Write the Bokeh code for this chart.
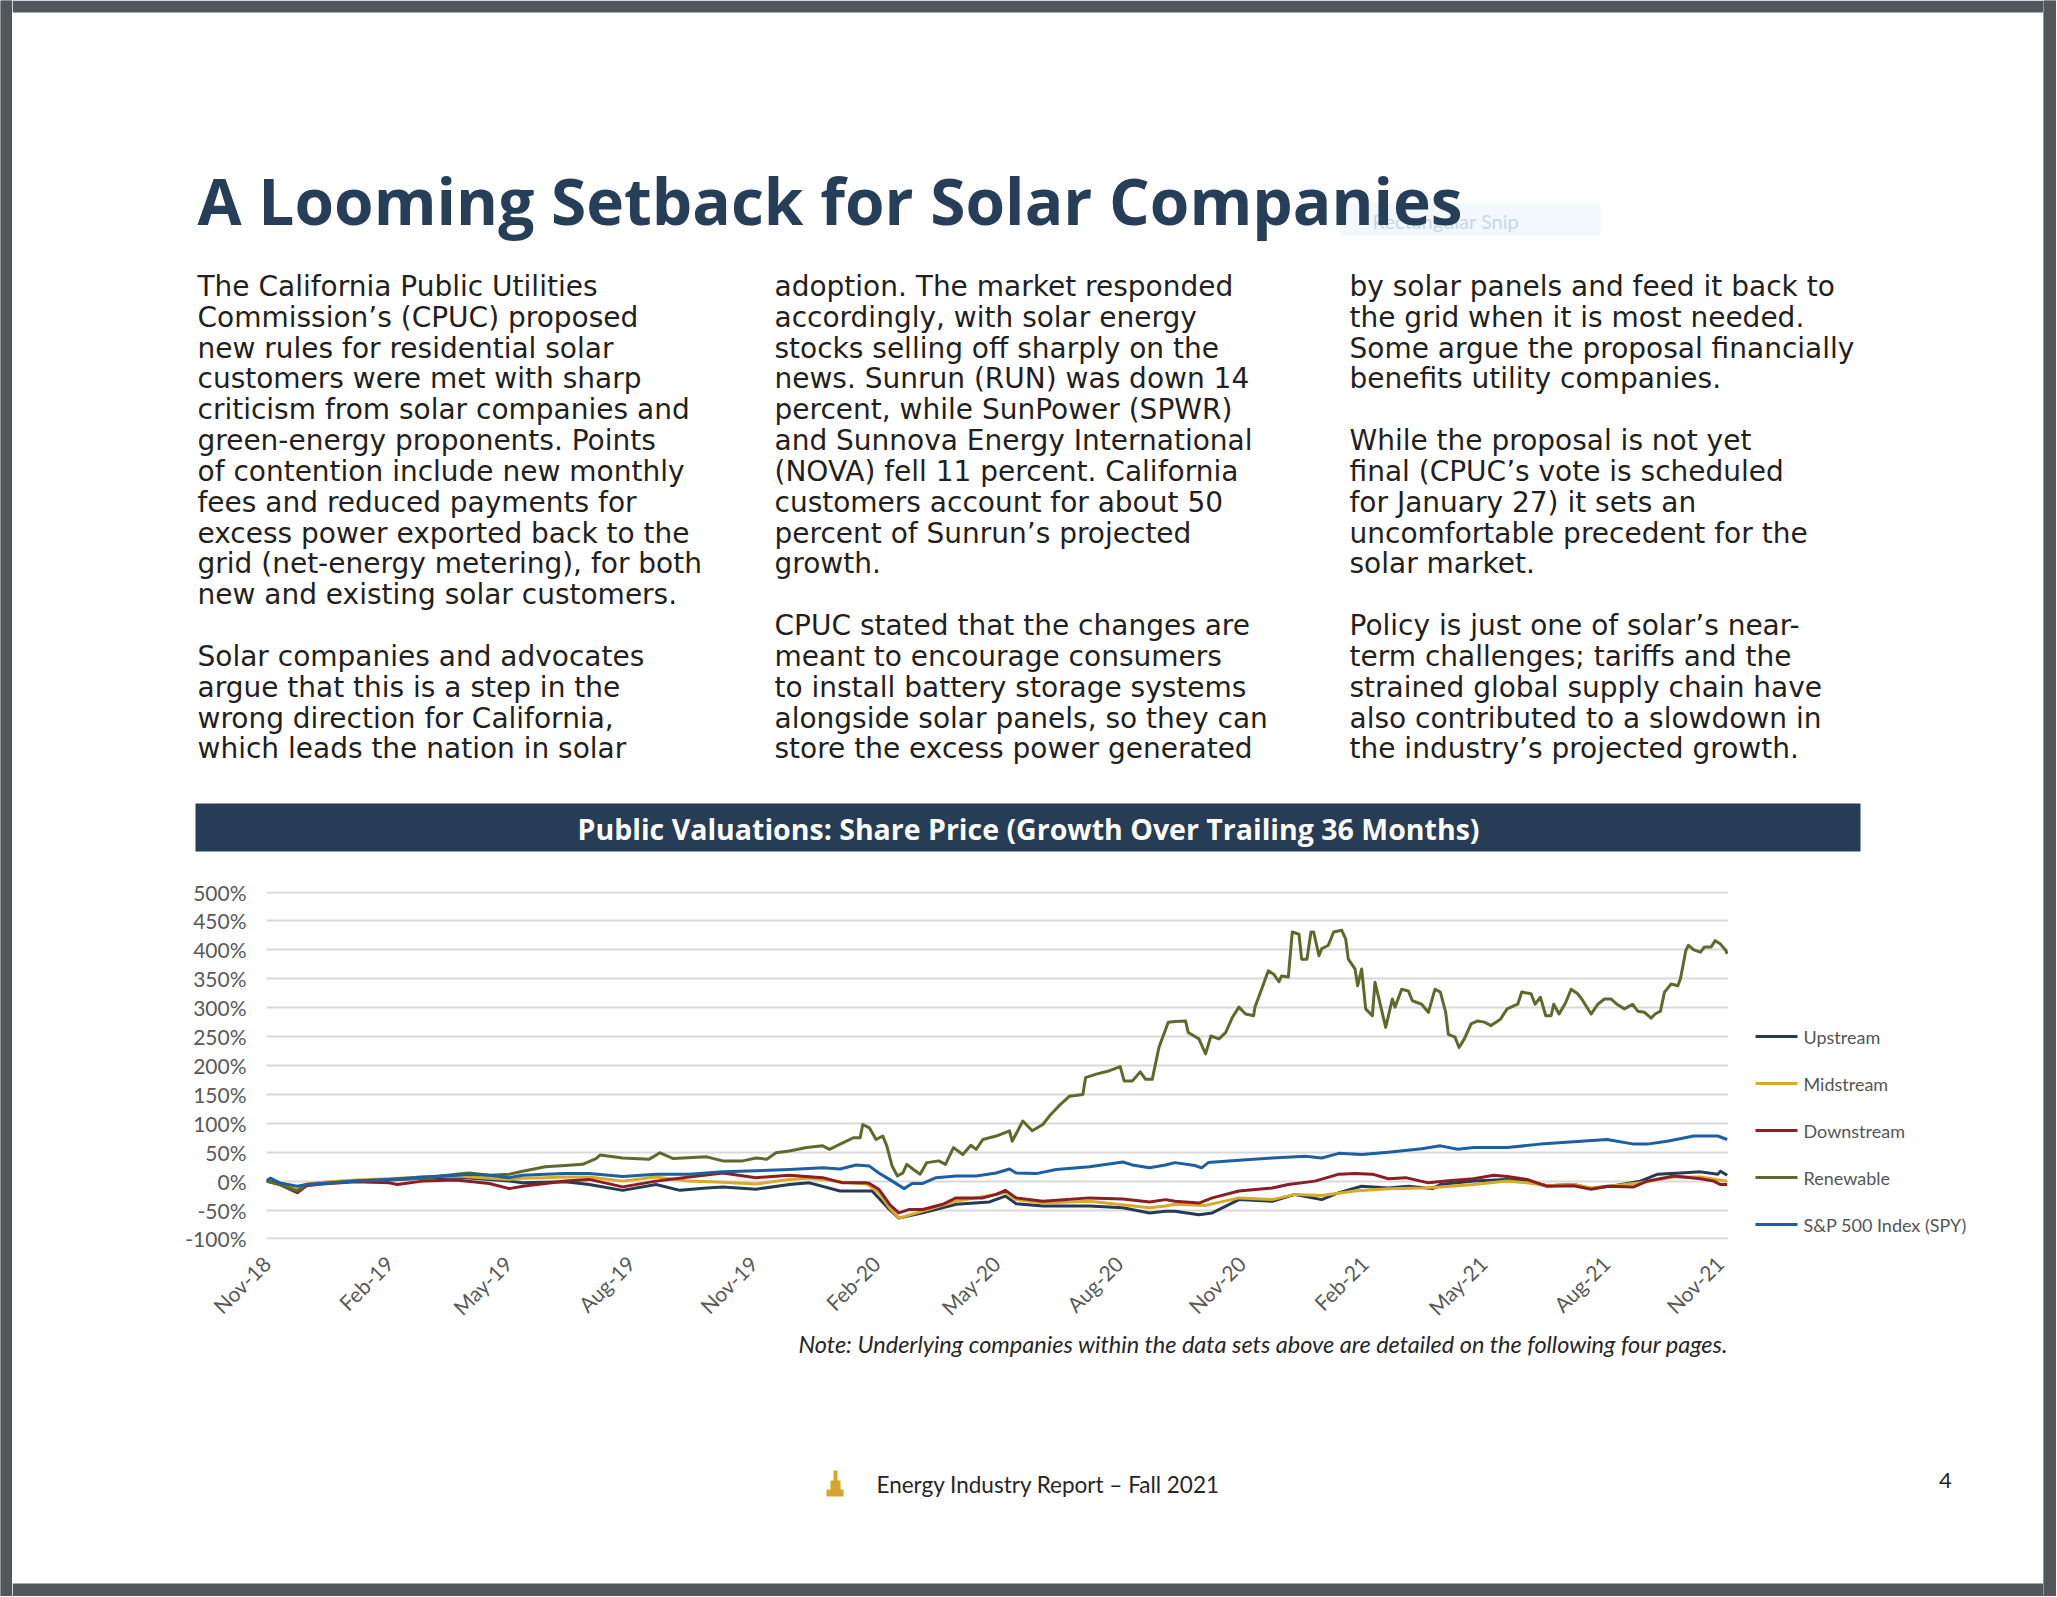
import math
import pandas as pd
from bokeh.plotting import figure
from bokeh.layouts import column, row
from bokeh.models import Range1d, FixedTicker, PrintfTickFormatter, DatetimeTickFormatter, Title
from bokeh.core.properties import value
from bokeh.embed import file_html
from bokeh.resources import INLINE

# ---------------- data ----------------
START = "2018-11-15"
END = "2021-11-15"
tick_labels = ["Nov-18", "Feb-19", "May-19", "Aug-19", "Nov-19", "Feb-20", "May-20",
               "Aug-20", "Nov-20", "Feb-21", "May-21", "Aug-21", "Nov-21"]
y_ticks = [-100, -50, 0, 50, 100, 150, 200, 250, 300, 350, 400, 450, 500]

series_names = ["Upstream", "Midstream", "Downstream", "Renewable", "S&P 500 Index (SPY)"]
series_colors = ["#243b53", "#d9a928", "#8b1e24", "#5b6b2b", "#1c5fa3"]

# day offsets from START and growth in percent
up_days = [0, 3, 10, 23, 30, 42, 67, 92, 117, 142, 167, 182, 192, 209, 224, 242, 267, 292, 310,
           330, 342, 367, 392, 407, 430, 450, 454, 467, 474, 492, 517, 542, 554, 562, 582, 617,
           642, 662, 674, 681, 699, 709, 729, 754, 771, 791, 804, 821, 841, 856, 874, 880, 905,
           930, 945, 960, 980, 993, 1010, 1030, 1043, 1060, 1075, 1088, 1090, 1095]
up_pct = [0, 5, -5, -17, -7, -3, 0, 2, 5, 7, 3, 0, -3, -2, -1, -6, -16, -6, -16,
          -12, -10, -14, -6, -3, -17, -17, -17, -49, -64, -55, -40, -36, -26, -39, -43, -43,
          -46, -55, -52, -52, -58, -55, -32, -35, -23, -32, -20, -9, -12, -9, -13, -6, 0,
          3, 0, -8, -6, -13, -8, 0, 12, 14, 16, 12, 17, 10]

mid_days = [0, 10, 23, 30, 42, 67, 92, 117, 142, 167, 182, 192, 209, 224, 242, 267, 292, 317,
            342, 367, 392, 405, 417, 432, 450, 452, 459, 467, 474, 492, 517, 554, 562, 582, 617,
            662, 674, 681, 704, 729, 754, 771, 791, 816, 841, 866, 880, 905, 930, 945, 960, 980,
            993, 1010, 1030, 1055, 1075, 1095]
mid_pct = [0, -5, -15, -5, -2, 2, 4, 7, 9, 5, 3, 5, 6, 7, 7, 0, 7, 0,
           -2, -5, 3, 5, 3, -2, -5, -8, -20, -46, -64, -52, -35, -20, -32, -38, -35,
           -46, -43, -40, -42, -29, -32, -23, -25, -17, -13, -12, -10, -6, 0, -3, -8, -6,
           -12, -8, -3, 7, 7, 0]

down_days = [0, 10, 23, 30, 42, 67, 92, 98, 117, 142, 167, 182, 192, 209, 224, 242, 267, 292,
             317, 342, 367, 392, 417, 432, 450, 452, 459, 467, 474, 482, 492, 507, 517, 537, 547,
             554, 562, 582, 617, 642, 662, 674, 681, 699, 709, 729, 754, 766, 786, 804, 816, 829,
             841, 854, 871, 884, 905, 920, 930, 945, 960, 980, 993, 1005, 1025, 1035, 1055, 1075,
             1085, 1090, 1095]
down_pct = [0, -6, -20, -8, -5, -1, -3, -6, 0, 2, -4, -13, -9, -4, 0, 3, -10, 0,
            7, 14, 6, 10, 6, -3, -3, -4, -14, -40, -55, -49, -49, -40, -29, -29, -23,
            -16, -29, -35, -29, -31, -36, -32, -35, -38, -29, -17, -12, -6, 0, 12, 13, 12,
            4, 6, -3, 0, 4, 10, 8, 3, -9, -8, -14, -9, -10, 0, 9, 4,
            0, -6, -6]

renew_days = [0, 10, 23, 30, 42, 67, 92, 117, 142, 152, 167, 182, 192, 209, 224, 237, 247, 250,
              267, 287, 295, 305, 330, 342, 357, 367, 375, 382, 392, 405, 417, 422, 432, 440, 445,
              447, 452, 457, 462, 465, 469, 473, 477, 480, 485, 490, 495, 504, 509, 515, 522, 528,
              532, 537, 547, 557, 559, 567, 574, 582, 587, 594, 602, 612, 614, 622, 632, 640, 643,
              649, 655, 659, 664, 669, 676, 681, 689, 691, 699, 704, 708, 714, 719, 724, 729, 734,
              740, 741, 746, 751, 755, 759, 761, 766, 769, 774, 776, 780, 783, 785, 789, 791, 796,
              800, 806, 809, 811, 816, 818, 821, 824, 829, 831, 839, 844, 846, 851, 856, 859, 866,
              871, 876, 880, 884, 886, 891, 894, 898, 903, 908, 913, 918, 925, 930, 938, 941, 948,
              951, 955, 959, 963, 965, 969, 974, 978, 983, 986, 993, 998, 1003, 1008, 1013, 1018,
              1024, 1028, 1033, 1038, 1041, 1045, 1048, 1053, 1058, 1060, 1064, 1066, 1070, 1075,
              1078, 1083, 1086, 1090, 1094, 1095]
renew_pct = [0, -6, -17, -6, -4, 0, 3, 5, 12, 14, 10, 12, 17, 25, 27, 29, 39, 45,
             40, 38, 49, 39, 42, 35, 35, 40, 38, 49, 52, 58, 61, 55, 66, 75, 75,
             98, 92, 72, 78, 61, 26, 9, 14, 29, 20, 12, 32, 35, 29, 58, 46, 62,
             55, 72, 78, 87, 69, 104, 87, 98, 113, 130, 147, 150, 179, 185, 191, 198, 173,
             173, 189, 176, 176, 231, 275, 276, 277, 257, 246, 220, 251, 246, 257, 283, 301, 289,
             286, 301, 332, 364, 358, 345, 355, 353, 431, 427, 384, 384, 431, 431, 390, 402, 408,
             431, 434, 419, 384, 367, 338, 367, 298, 286, 344, 266, 315, 301, 332, 329, 312, 306,
             292, 332, 327, 292, 254, 249, 231, 246, 272, 277, 275, 269, 280, 298, 306, 327, 324,
             306, 318, 286, 286, 306, 289, 309, 332, 324, 315, 289, 306, 315, 315, 305, 298,
             306, 294, 292, 282, 289, 294, 327, 341, 338, 350, 399, 408, 400, 396,
             405, 405, 416, 410, 399, 393]

spy_days = [0, 3, 10, 23, 30, 42, 67, 92, 117, 142, 152, 167, 182, 192, 209, 224, 242, 267, 292,
            317, 342, 367, 392, 417, 430, 442, 452, 459, 467, 478, 484, 492, 502, 517, 532, 547,
            557, 562, 577, 592, 617, 642, 649, 662, 674, 681, 696, 701, 706, 729, 754, 779, 791,
            804, 821, 841, 866, 880, 893, 905, 930, 955, 980, 1005, 1025, 1035, 1050, 1070, 1088,
            1095]
spy_pct = [0, 5, -3, -9, -6, -4, 0, 3, 7, 10, 12, 10, 6, 10, 12, 13, 13, 8, 12,
           12, 16, 18, 20, 23, 21, 28, 26, 14, 3, -13, -4, -4, 6, 9, 9, 14,
           21, 14, 13, 20, 25, 33, 28, 23, 28, 32, 27, 23, 32, 36, 40, 43, 40,
           48, 46, 50, 56, 61, 55, 58, 58, 64, 68, 72, 64, 64, 69, 78, 78,
           72]

series_days = [up_days, mid_days, down_days, renew_days, spy_days]
series_pct = [up_pct, mid_pct, down_pct, renew_pct, spy_pct]

# ---------------- page texts ----------------
title_text = "A Looming Setback for Solar Companies"
col1 = ["The California Public Utilities", "Commission\u2019s (CPUC) proposed",
        "new rules for residential solar", "customers were met with sharp",
        "criticism from solar companies and", "green-energy proponents. Points",
        "of contention include new monthly", "fees and reduced payments for",
        "excess power exported back to the", "grid (net-energy metering), for both",
        "new and existing solar customers.", "",
        "Solar companies and advocates", "argue that this is a step in the",
        "wrong direction for California,", "which leads the nation in solar"]
col2 = ["adoption. The market responded", "accordingly, with solar energy",
        "stocks selling off sharply on the", "news. Sunrun (RUN) was down 14",
        "percent, while SunPower (SPWR)", "and Sunnova Energy International",
        "(NOVA) fell 11 percent. California", "customers account for about 50",
        "percent of Sunrun\u2019s projected", "growth.", "",
        "CPUC stated that the changes are", "meant to encourage consumers",
        "to install battery storage systems", "alongside solar panels, so they can",
        "store the excess power generated"]
col3 = ["by solar panels and feed it back to", "the grid when it is most needed.",
        "Some argue the proposal financially", "benefits utility companies.", "",
        "While the proposal is not yet", "final (CPUC\u2019s vote is scheduled",
        "for January 27) it sets an", "uncomfortable precedent for the",
        "solar market.", "",
        "Policy is just one of solar\u2019s near-", "term challenges; tariffs and the",
        "strained global supply chain have", "also contributed to a slowdown in",
        "the industry\u2019s projected growth."]
banner_text = "Public Valuations: Share Price (Growth Over Trailing 36 Months)"
note_text = "Note: Underlying companies within the data sets above are detailed on the following four pages."
footer_text = "Energy Industry Report \u2013 Fall 2021"
page_number = "4"
snip_text = "Rectangular Snip"

# ---------------- layout constants (screen pixels) ----------------
W, H = 2056, 1596
GL, GR, GT, GB = 12, 13, 12, 13   # gray page frame widths
HEAD_H = 872
CHART_BOTTOM = 1382
FRAME_L, FRAME_R, FRAME_T, FRAME_B = 266, 1728, 891, 1239
GRAY = "#51565a"
NAVY = "#263d55"
TEXT_COLOR = "#231f20"
BODY = "DejaVu Sans"
HEAD = "Open Sans"
SMALL = "Lato"
INNER_W = W - GL - GR
LINE_W = 3.0


def canvas_fig(x0, y0, w, h, bg="white", y_top=None, y_bot=None, **kw):
    f = figure(width=w, height=h, output_backend="svg", toolbar_location=None,
               x_range=Range1d(x0, x0 + w),
               y_range=Range1d(y_bot if y_bot is not None else y0 + h,
                               y_top if y_top is not None else y0),
               x_axis_location=None, y_axis_location=None, title=None, **kw)
    f.grid.visible = False
    f.outline_line_color = None
    f.background_fill_color = bg
    f.border_fill_color = bg
    return f


def txt(f, s, x, y, size, font, color, align="left", baseline="middle", style="normal"):
    f.text(x=[x], y=[y], text=[s], text_font=value(font), text_font_size=f"{size}px",
           text_color=color, text_align=align, text_baseline=baseline,
           text_font_style=style)


# ---------------- header ----------------
head = canvas_fig(GL, 0, INNER_W, HEAD_H, min_border=0)
head.quad(left=[GL], right=[W - GR], top=[0], bottom=[GT], fill_color=GRAY, line_color=None)
head.quad(left=[1339], right=[1600], top=[203], bottom=[235], fill_color="#f2f8fc", line_color=None)
txt(head, snip_text, 1372, 220, 20, SMALL, "#c9d8e5")
txt(head, title_text, 197, 200, 64, HEAD, "#263e57", style="bold")
for col, x0 in ((col1, 197), (col2, 774), (col3, 1349)):
    for i, line in enumerate(col):
        if line:
            txt(head, line, x0, 286 + 30.83 * i, 28, BODY, TEXT_COLOR)
head.quad(left=[195], right=[1860], top=[803], bottom=[851], fill_color=NAVY, line_color=None)
txt(head, banner_text, 1028, 828, 28.5, HEAD, "white", align="center", style="bold")

# ---------------- chart ----------------
CH = CHART_BOTTOM - HEAD_H
start = pd.Timestamp(START)
end = pd.Timestamp(END)
chart = figure(width=FRAME_R - GL, height=CH, output_backend="svg", toolbar_location=None,
               x_axis_type="datetime", title=None,
               x_range=Range1d(start.to_pydatetime(), end.to_pydatetime()),
               y_range=Range1d(-101, 501),
               min_border_left=FRAME_L - GL, min_border_right=0,
               min_border_top=FRAME_T - HEAD_H, min_border_bottom=CHART_BOTTOM - FRAME_B)
chart.outline_line_color = None
chart.background_fill_color = "white"
chart.border_fill_color = "white"

tick_dates = [start + pd.DateOffset(months=3 * i) for i in range(len(tick_labels))]
tick_ms = [int(t.value // 10**6) for t in tick_dates]
chart.xaxis.ticker = FixedTicker(ticks=tick_ms)
fmt = "%b-%y"
chart.xaxis.formatter = DatetimeTickFormatter(days=fmt, months=fmt, years=fmt, hours=fmt,
                                              minutes=fmt, seconds=fmt, milliseconds=fmt,
                                              microseconds=fmt, minsec=fmt, hourmin=fmt)
chart.xaxis.major_label_overrides = {ms: lab for ms, lab in zip(tick_ms, tick_labels)}
chart.xaxis.major_label_orientation = math.pi / 4
chart.yaxis.ticker = FixedTicker(ticks=y_ticks)
chart.yaxis.formatter = PrintfTickFormatter(format="%d%%")
for ax in (chart.xaxis[0], chart.yaxis[0]):
    ax.axis_line_color = None
    ax.major_tick_line_color = None
    ax.minor_tick_line_color = None
    ax.major_tick_out = 0
    ax.major_tick_in = 0
    ax.minor_tick_out = 0
    ax.major_label_text_font = SMALL
    ax.major_label_text_color = "#595959"
chart.yaxis.major_label_text_font_size = "21px"
chart.xaxis.major_label_text_font_size = "21px"
chart.yaxis.major_label_standoff = 20
chart.xaxis.major_label_standoff = 20
chart.xgrid.grid_line_color = None
chart.ygrid.grid_line_color = "#d9d9d9"
chart.ygrid.grid_line_width = 2

for name, color, days, pct in zip(series_names, series_colors, series_days, series_pct):
    xs = [start + pd.Timedelta(days=d) for d in days]
    chart.line(xs, pct, line_color=color, line_width=LINE_W, line_join="round", name=name)

# note under the chart, right aligned with the plot area
chart.add_layout(Title(text=note_text, align="right", text_font=SMALL, text_font_size="23.5px",
                       text_font_style="italic", text_color="#262626", standoff=-8, offset=0),
                 "below")

# legend block to the right of the plot area (its plot area lines up with the chart's)
leg = canvas_fig(FRAME_R, HEAD_H, W - GR - FRAME_R, CH, y_top=FRAME_T, y_bot=FRAME_B,
                 min_border_left=0, min_border_right=0,
                 min_border_top=FRAME_T - HEAD_H, min_border_bottom=CHART_BOTTOM - FRAME_B)
for i, (name, color) in enumerate(zip(series_names, series_colors)):
    yc = 1036 + 47 * i
    leg.segment(x0=[1755], y0=[yc], x1=[1797], y1=[yc], line_color=color, line_width=LINE_W)
    txt(leg, name, 1803, yc, 18, SMALL, "#555555")

# ---------------- footer ----------------
foot = canvas_fig(GL, CHART_BOTTOM, INNER_W, H - CHART_BOTTOM, min_border=0)
foot.quad(left=[GL], right=[W - GR], top=[H - GB], bottom=[H], fill_color=GRAY, line_color=None)
foot.quad(left=[833, 830, 826], right=[837, 840, 843], top=[1470, 1480, 1489],
          bottom=[1481, 1490, 1496], fill_color="#d4a52a", line_color=None)
txt(foot, footer_text, 876, 1484, 22.5, SMALL, "#262626")
txt(foot, page_number, 1945, 1480, 22, SMALL, "#262626", align="center")

# gray side strips of the page frame
gl = canvas_fig(0, 0, GL, H, bg=GRAY, min_border=0)
gl.quad(left=[0], right=[GL], top=[0], bottom=[H], fill_color=GRAY, line_color=None)
gr = canvas_fig(W - GR, 0, GR, H, bg=GRAY, min_border=0)
gr.quad(left=[W - GR], right=[W], top=[0], bottom=[H], fill_color=GRAY, line_color=None)

page = row(gl, column(head, row(chart, leg), foot), gr)
open("out.html", "w").write(file_html(page, INLINE))
